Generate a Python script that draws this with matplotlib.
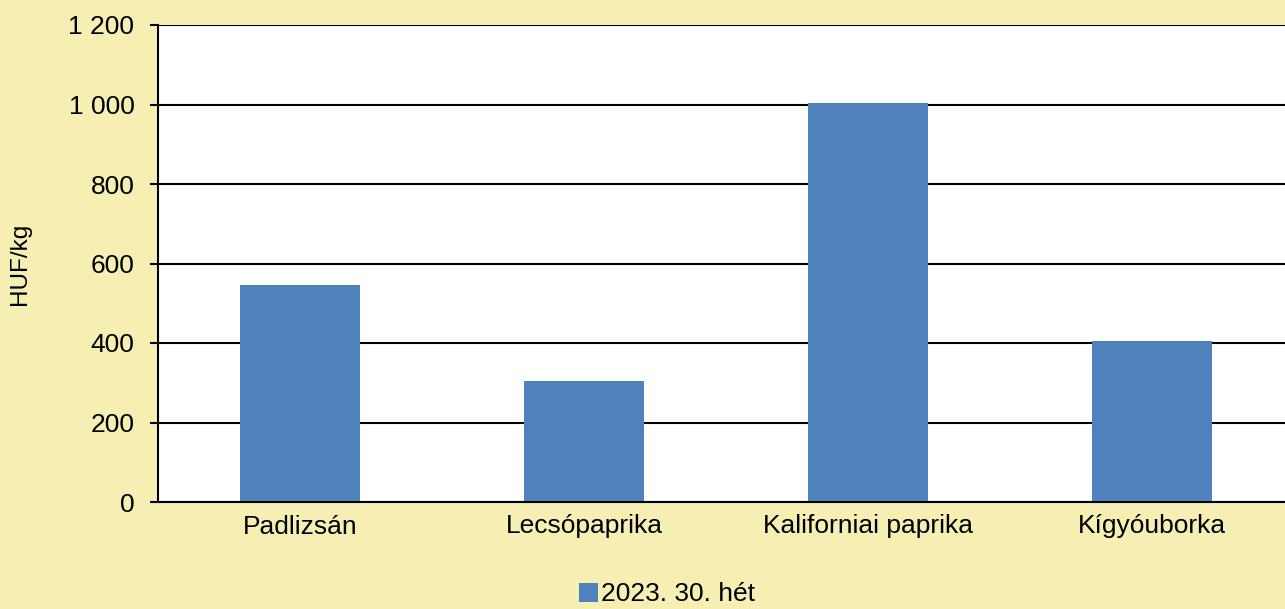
import matplotlib
matplotlib.use("Agg")
import matplotlib.pyplot as plt
from matplotlib.ticker import FuncFormatter, FixedLocator

categories = ["Padlizsán", "Lecsópaprika", "Kaliforniai paprika", "Kígyóuborka"]
values = [545, 305, 1005, 405]
series_label = "2023. 30. hét"
yticks = [0, 200, 400, 600, 800, 1000, 1200]

plt.rcParams['font.family'] = ['Liberation Sans', 'DejaVu Sans']

bg = "#F6EFB4"
bar_color = "#4F81BD"

fig = plt.figure(figsize=(12.85, 6.09), dpi=100, facecolor=bg)
ax = fig.add_axes([158/1285, 1-502/609, (1294-158)/1285, (502-25)/609])
ax.set_facecolor("white")

x = list(range(len(categories)))
ax.bar(x, values, width=0.42, color=bar_color, zorder=3, label=series_label)

ax.set_xlim(-0.5, len(categories)-0.5)
ax.set_ylim(0, 1200)
ax.yaxis.set_major_locator(FixedLocator(yticks))
ax.yaxis.set_major_formatter(FuncFormatter(lambda v, p: f"{int(v):,}".replace(",", " ")))
ax.grid(axis='y', color='black', linewidth=1.5, zorder=1)
ax.set_axisbelow(True)

for s in ['top', 'right']:
    ax.spines[s].set_visible(False)
ax.spines['left'].set_linewidth(1.5)
ax.spines['bottom'].set_linewidth(1.5)
ax.spines['left'].set_zorder(4)
ax.spines['bottom'].set_zorder(4)

ax.set_xticks(x)
ax.set_xticklabels(categories, fontsize=19)
ax.tick_params(axis='x', length=0, pad=9)
ax.tick_params(axis='y', length=6, width=1.5, direction='out', pad=11, labelsize=19)

ax.set_ylabel("HUF/kg", fontsize=17.5)
ax.yaxis.set_label_coords(-0.112, 0.5)

fig.legend(loc='center', bbox_to_anchor=(0.519, 0.024), frameon=False, fontsize=19,
           handlelength=0.75, handleheight=0.75, handletextpad=0.1, borderpad=0)

fig.savefig("out.png", dpi=100, facecolor=bg)
